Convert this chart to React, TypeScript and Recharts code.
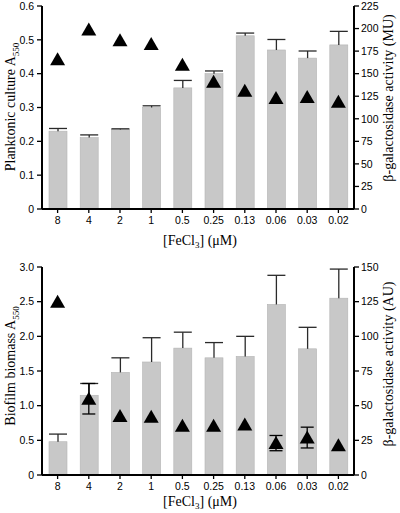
import React from 'react';
import { ComposedChart, Bar, Line, XAxis, YAxis, ErrorBar, Customized } from 'recharts';

const concentrations = ['8', '4', '2', '1', '0.5', '0.25', '0.13', '0.06', '0.03', '0.02'];

const planktonicA550 = [0.230, 0.211, 0.235, 0.300, 0.358, 0.400, 0.512, 0.470, 0.446, 0.485];
const planktonicA550Err = [0.008, 0.008, 0.002, 0.005, 0.022, 0.008, 0.008, 0.031, 0.021, 0.040];
const planktonicMU = [166, 199, 187, 183, 160, 141, 131, 123, 124, 119];
const planktonicMUErr = [0, 0, 0, 0, 0, 0, 0, 0, 0, 0];

const biofilmA550 = [0.48, 1.15, 1.48, 1.63, 1.83, 1.69, 1.71, 2.46, 1.82, 2.55];
const biofilmA550Err = [0.11, 0.17, 0.21, 0.35, 0.23, 0.22, 0.29, 0.42, 0.31, 0.42];
const biofilmAU = [125, 55, 42.5, 42, 35.5, 35.5, 36.5, 23, 27, 21.5];
const biofilmAUErr = [0, 11, 0, 0, 0, 0, 0, 5.5, 7.5, 0];

const planktonicLeftTicks = [0, 0.1, 0.2, 0.3, 0.4, 0.5, 0.6];
const planktonicRightTicks = [0, 25, 50, 75, 100, 125, 150, 175, 200, 225];
const biofilmLeftTicks = [0, 0.5, 1.0, 1.5, 2.0, 2.5, 3.0];
const biofilmRightTicks = [0, 25, 50, 75, 100, 125, 150];

const topData = concentrations.map((c, i) => ({
  cat: c,
  bar: planktonicA550[i],
  barErr: planktonicA550Err[i],
  tri: planktonicMU[i],
  triErr: planktonicMUErr[i],
}));

const bottomData = concentrations.map((c, i) => ({
  cat: c,
  bar: biofilmA550[i],
  barErr: biofilmA550Err[i],
  tri: biofilmAU[i],
  triErr: biofilmAUErr[i],
}));

const tickFont = '"Liberation Sans Narrow", "Arial Narrow", "Liberation Sans", Arial, sans-serif';
const titleFont = '"Liberation Serif", "Times New Roman", serif';

const leftFmt1 = (v: number) => (v === 0 ? '0' : v.toFixed(1));

const BarWithErr = (props: any) => {
  const { x, y, width, height, payload } = props;
  if (x == null || y == null) return null;
  const ppu = height / payload.bar;
  const ey = y - payload.barErr * ppu;
  const cx = x + width / 2;
  return (
    <g>
      <rect x={x} y={y} width={width} height={height} fill="#c8c8c8" stroke="#b4b4b4" strokeWidth={0.6} />
      <line x1={cx} x2={cx} y1={y} y2={ey} stroke="#2a2a2a" strokeWidth={1.3} />
      <line x1={x} x2={x + width} y1={ey} y2={ey} stroke="#2a2a2a" strokeWidth={1.3} />
    </g>
  );
};

const Tri = (props: any) => {
  const { cx, cy } = props;
  if (cx == null || cy == null) return null;
  return (
    <polygon
      key={props.index}
      points={`${cx},${cy - 7} ${cx - 7.5},${cy + 6} ${cx + 7.5},${cy + 6}`}
      fill="#000"
    />
  );
};

const Titles = (p: { leftTitle: string; rightTitle: string; yCenter: number; rightYCenter: number; xTitleY: number }) => (
  <g fontFamily={titleFont} fontSize={14} fill="#000">
    <text transform={`translate(15,${p.yCenter}) rotate(-90)`} textAnchor="middle">
      {p.leftTitle}
      <tspan fontSize={9} dy={4}>550</tspan>
    </text>
    <text transform={`translate(393,${p.rightYCenter}) rotate(-90)`} textAnchor="middle">
      {p.rightTitle}
    </text>
    <text x={200} y={p.xTitleY} textAnchor="middle">
      [FeCl<tspan fontSize={9} dy={3}>3</tspan>
      <tspan dy={-3}>] (μM)</tspan>
    </text>
  </g>
);

const axisLine = { stroke: '#000', strokeWidth: 2 };
const tickLine = { stroke: '#000', strokeWidth: 1.3 };
const tickStyle = { fontSize: 10.5, fill: '#000', fontFamily: tickFont };

function Panel(props: {
  data: any[];
  height: number;
  top: number;
  xHeight: number;
  leftDomain: number[];
  leftTicks: number[];
  rightDomain: number[];
  rightTicks: number[];
  leftTitle: string;
  rightTitle: string;
  yCenter: number;
  rightYCenter: number;
  xTitleY: number;
}) {
  return (
    <ComposedChart
      width={400}
      height={props.height}
      data={props.data}
      margin={{ top: props.top, right: 0, bottom: 0, left: 0 }}
      barCategoryGap={0}
    >
      <XAxis
        dataKey="cat"
        height={props.xHeight}
        interval={0}
        tickSize={4}
        tickMargin={4}
        axisLine={axisLine}
        tickLine={tickLine}
        tick={tickStyle}
      />
      <YAxis
        yAxisId="left"
        orientation="left"
        width={42}
        domain={props.leftDomain}
        ticks={props.leftTicks}
        tickFormatter={leftFmt1}
        interval={0}
        tickSize={5}
        tickMargin={3}
        axisLine={axisLine}
        tickLine={tickLine}
        tick={tickStyle}
        allowDataOverflow
      />
      <YAxis
        yAxisId="right"
        orientation="right"
        width={46}
        domain={props.rightDomain}
        ticks={props.rightTicks}
        interval={0}
        tickSize={5}
        tickMargin={2}
        axisLine={axisLine}
        tickLine={tickLine}
        tick={tickStyle}
        allowDataOverflow
      />
      <Bar yAxisId="left" dataKey="bar" barSize={18} shape={<BarWithErr />} isAnimationActive={false} />
      <Line
        yAxisId="right"
        dataKey="tri"
        stroke="none"
        dot={(p: any) => <Tri key={p.index} {...p} />}
        activeDot={false}
        isAnimationActive={false}
      >
        <ErrorBar dataKey="triErr" direction="y" width={6.5} stroke="#000" strokeWidth={1.3} />
      </Line>
      <Customized
        component={
          <Titles
            leftTitle={props.leftTitle}
            rightTitle={props.rightTitle}
            yCenter={props.yCenter}
            rightYCenter={props.rightYCenter}
            xTitleY={props.xTitleY}
          />
        }
      />
    </ComposedChart>
  );
}

export default function App() {
  return (
    <div style={{ position: 'absolute', left: 0, top: 0, width: 400, height: 513, background: '#fff' }}>
      <Panel
        data={topData}
        height={256}
        top={6}
        xHeight={47}
        leftDomain={[0, 0.6]}
        leftTicks={planktonicLeftTicks}
        rightDomain={[0, 225]}
        rightTicks={planktonicRightTicks}
        leftTitle="Planktonic culture A"
        rightTitle="β-galactosidase activity (MU)"
        yCenter={107}
        rightYCenter={98}
        xTitleY={245}
      />
      <Panel
        data={bottomData}
        height={257}
        top={11}
        xHeight={38}
        leftDomain={[0, 3]}
        leftTicks={biofilmLeftTicks}
        rightDomain={[0, 150]}
        rightTicks={biofilmRightTicks}
        leftTitle="Biofilm biomass A"
        rightTitle="β-galactosidase activity (AU)"
        yCenter={110}
        rightYCenter={108}
        xTitleY={250}
      />
    </div>
  );
}
